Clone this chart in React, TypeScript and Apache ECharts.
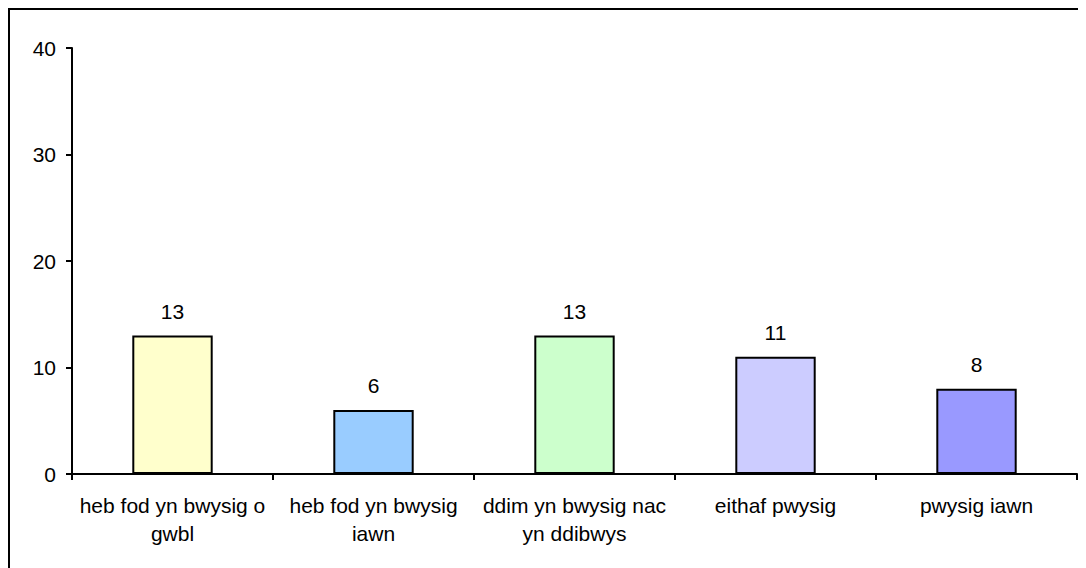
import React, { useEffect, useRef } from "react";
import * as echarts from "echarts";

const categories = [
  "heb fod yn bwysig o\ngwbl",
  "heb fod yn bwysig\niawn",
  "ddim yn bwysig nac\nyn ddibwys",
  "eithaf pwysig",
  "pwysig iawn",
];
const values = [13, 6, 13, 11, 8];
const barColors = ["#FFFFCC", "#99CCFF", "#CCFFCC", "#CCCCFF", "#9999FF"];
const yTicks = [0, 10, 20, 30, 40];

export default function App() {
  const ref = useRef<HTMLDivElement>(null);
  useEffect(() => {
    document.body.style.overflow = "hidden";
    const chart = echarts.init(ref.current!, undefined, { renderer: "svg" });
    const font = "'Liberation Sans', Arial, sans-serif";
    chart.setOption({
      animation: false,
      grid: { left: 62, right: 9, top: 38, bottom: 94, outerBoundsMode: "none", containLabel: false },
      xAxis: {
        type: "category",
        data: categories,
        boundaryGap: true,
        axisLine: { lineStyle: { color: "#000", width: 2 } },
        axisTick: { show: true, length: 6, alignWithLabel: false, lineStyle: { color: "#000", width: 2 } },
        axisLabel: { color: "#000", fontFamily: font, fontSize: 21, lineHeight: 28, margin: 17, interval: 0 },
      },
      yAxis: {
        type: "value",
        min: yTicks[0],
        max: yTicks[yTicks.length - 1],
        interval: 10,
        axisLine: { show: true, lineStyle: { color: "#000", width: 2 } },
        axisTick: { show: true, length: 6, lineStyle: { color: "#000", width: 2 } },
        axisLabel: { color: "#000", fontFamily: font, fontSize: 21, margin: 16 },
        splitLine: { show: false },
      },
      series: [
        {
          type: "bar",
          barWidth: "40%",
          data: values.map((v, i) => ({
            value: v,
            itemStyle: { color: barColors[i], borderColor: "#000", borderWidth: 2 },
          })),
          label: {
            show: true,
            position: "top",
            distance: 14,
            color: "#000",
            fontFamily: font,
            fontSize: 21,
          },
        },
      ],
    });
    return () => chart.dispose();
  }, []);
  return (
    <div style={{ width: 1078, height: 560, borderLeft: "2px solid #000", borderTop: "2px solid #000", boxSizing: "border-box" }}>
      <div ref={ref} style={{ width: 1076, height: 558 }} />
    </div>
  );
}
